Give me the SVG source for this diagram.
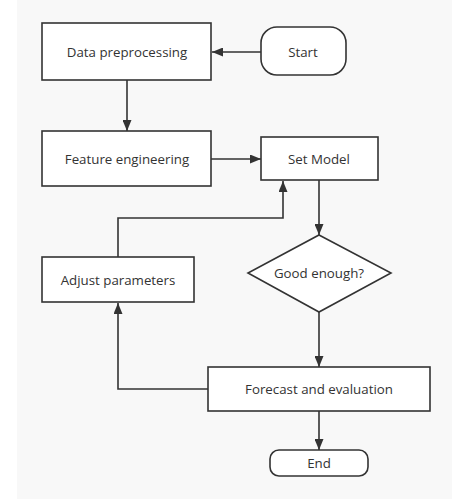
<svg xmlns="http://www.w3.org/2000/svg" width="452" height="499" viewBox="0 0 452 499">
<style>
.box{fill:#fff;stroke:#333;stroke-width:1.6}
.lbl{font-family:"Open Sans","Noto Sans",sans-serif;font-size:13.3px;fill:#333;text-anchor:middle;dominant-baseline:central}
.con{fill:none;stroke:#333;stroke-width:1.6}
</style>
<defs>
<marker id="arr" viewBox="0 0 11 9" refX="11" refY="4.5" markerWidth="11" markerHeight="9" markerUnits="userSpaceOnUse" orient="auto">
<path d="M0,0 L11,4.5 L0,9 Z" fill="#333"/>
</marker>
</defs>
<rect x="0" y="0" width="452" height="499" fill="#fff"/>
<rect x="17" y="0" width="435" height="499" fill="#f8f8f8"/>
<g id="connectors">
<path class="con" d="M261,52 H212" marker-end="url(#arr)"/>
<path class="con" d="M127,80 V131" marker-end="url(#arr)"/>
<path class="con" d="M211,159 H261" marker-end="url(#arr)"/>
<path class="con" d="M118,257 V218 H283 V181" marker-end="url(#arr)"/>
<path class="con" d="M319,180 V235" marker-end="url(#arr)"/>
<path class="con" d="M319,312 V367" marker-end="url(#arr)"/>
<path class="con" d="M208,389 H118 V303" marker-end="url(#arr)"/>
<path class="con" d="M319,411 V450" marker-end="url(#arr)"/>
</g>
<g id="data-preprocessing">
<rect class="box" x="42" y="23" width="169" height="57"/>
<text class="lbl" x="127" y="52">Data preprocessing</text>
</g>
<g id="start">
<rect class="box" x="261" y="27" width="85" height="48" rx="16" ry="16"/>
<text class="lbl" x="303" y="52">Start</text>
</g>
<g id="feature-engineering">
<rect class="box" x="42" y="131" width="169" height="55"/>
<text class="lbl" x="127" y="159">Feature engineering</text>
</g>
<g id="set-model">
<rect class="box" x="261" y="137" width="117" height="43"/>
<text class="lbl" x="319" y="159">Set Model</text>
</g>
<g id="good-enough">
<polygon class="box" points="319,235 391,273 319,312 248,273"/>
<text class="lbl" x="319" y="273">Good enough?</text>
</g>
<g id="adjust-parameters">
<rect class="box" x="42" y="257" width="152" height="45"/>
<text class="lbl" x="118" y="280">Adjust parameters</text>
</g>
<g id="forecast">
<rect class="box" x="208" y="367" width="222" height="44"/>
<text class="lbl" x="319" y="389">Forecast and evaluation</text>
</g>
<g id="end">
<rect class="box" x="270" y="450" width="98" height="26" rx="9" ry="9"/>
<text class="lbl" x="319" y="463">End</text>
</g>
</svg>
